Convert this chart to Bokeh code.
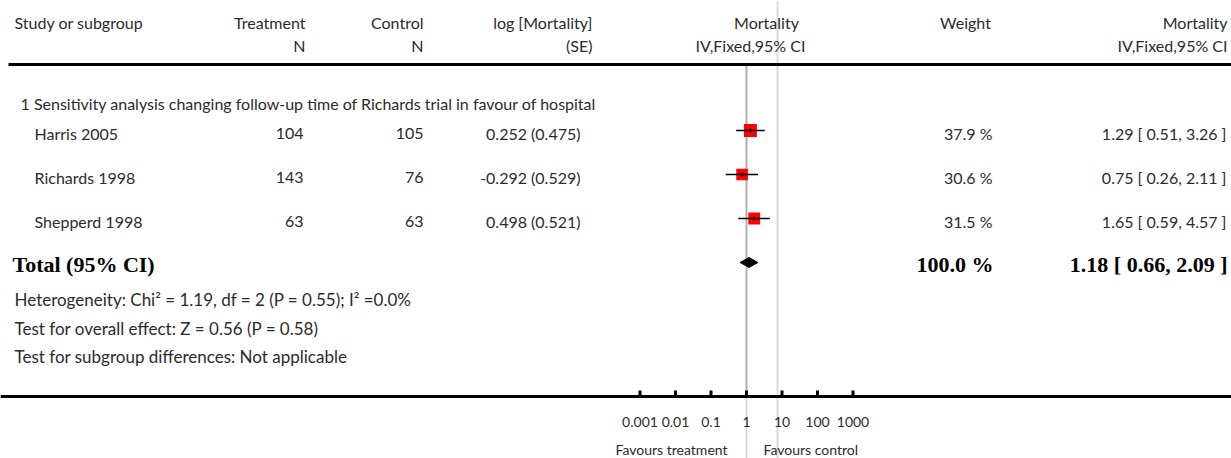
import math
from bokeh.plotting import figure
from bokeh.models import ColumnDataSource, Range1d, LogScale
from bokeh.core.properties import value
from bokeh.embed import file_html
from bokeh.resources import INLINE

# ---------------- data ----------------
studies = ["Harris 2005", "Richards 1998", "Shepperd 1998"]
treat_n = [104, 143, 63]
ctrl_n = [105, 76, 63]
log_est = [0.252, -0.292, 0.498]
log_se = [0.475, 0.529, 0.521]
weights = [37.9, 30.6, 31.5]
rr_est = [1.29, 0.75, 1.65]
rr_lo = [0.51, 0.26, 0.59]
rr_hi = [3.26, 2.11, 4.57]
total_est = 1.18
total_lo = 0.66
total_hi = 2.09
total_weight = 100.0
tick_values = [0.001, 0.01, 0.1, 1, 10, 100, 1000]
tick_labels = ["0.001", "0.01", "0.1", "1", "10", "100", "1000"]
subgroup_title = "1 Sensitivity analysis changing follow-up time of Richards trial in favour of hospital"
heterogeneity = "Heterogeneity: Chi\u00b2 = 1.19, df = 2 (P = 0.55); I\u00b2 =0.0%"
overall = "Test for overall effect: Z = 0.56 (P = 0.58)"
subgroup_diff = "Test for subgroup differences: Not applicable"

# ---------------- layout (pixel-like layout coordinates) ----------------
W, H = 1231, 458
X0, X1 = 0, 1231
Y_TOP, Y_BOT = 0, 458
ONE_X = 746.0       # where value 1 sits
DECADE = 35.5       # px per decade

FONT = value("Lato")
SERIF = value("Liberation Serif")
TXT = "#2b2b2b"
FS = "16px"
NOTE_FS = "17px"
BOLD_FS = "22px"
SMALL_FS = "14px"

p = figure(width=W, height=H, output_backend="svg", toolbar_location=None,
           x_range=Range1d(X0, X1), y_range=Range1d(Y_BOT, Y_TOP),
           min_border=0, outline_line_color=None, background_fill_color="white",
           border_fill_color="white")
p.axis.visible = False
p.grid.visible = False
p.extra_x_ranges = {"forest": Range1d(10 ** ((X0 - ONE_X) / DECADE), 10 ** ((X1 - ONE_X) / DECADE))}
p.extra_x_scales = {"forest": LogScale()}

# rows
row_text_y = [133, 177, 221]
row_mark_y = [130, 174, 218]
y_head1, y_head2, y_line = 22, 45, 64
y_title = 103
y_total, y_total_mark = 264, 262
y_het, y_over, y_sub = 299, 328, 356
y_axis, y_ticklab, y_fav = 396, 421, 449

# vertical reference lines
p.segment(x0=[777], y0=[Y_TOP], x1=[777], y1=[Y_BOT], line_color="#dcdcdc", line_width=2)
p.segment(x0=[1], y0=[y_line], x1=[1], y1=[y_axis], x_range_name="forest",
          line_color="#b0b0b0", line_width=2)
p.segment(x0=[1], y0=[y_axis], x1=[1], y1=[Y_BOT], x_range_name="forest",
          line_color="#d6d6d6", line_width=1.5)

# horizontal rules
p.segment(x0=[8], y0=[y_line], x1=[1231], y1=[y_line], line_color="black", line_width=3)
p.segment(x0=[0], y0=[y_axis], x1=[1231], y1=[y_axis], line_color="black", line_width=3)

def txt(x, y, t, align="left", size=FS, font=FONT, color=TXT, style="normal"):
    src = ColumnDataSource(dict(x=x, y=y, t=t))
    p.text(x="x", y="y", text="t", source=src, text_align=align, text_baseline="middle",
           text_font=font, text_font_size=size, text_color=color, text_font_style=style)

# header
txt([14], [y_head1], ["Study or subgroup"])
txt([305, 423, 592], [y_head1] * 3, ["Treatment", "Control", "log [Mortality]"], align="right")
txt([305, 423, 592], [y_head2] * 3, ["N", "N", "(SE)"], align="right")
txt([766, 750], [y_head1, y_head2], ["Mortality", "IV,Fixed,95% CI"], align="center")
txt([965], [y_head1], ["Weight"], align="center")
txt([1227, 1227], [y_head1, y_head2], ["Mortality", "IV,Fixed,95% CI"], align="right")

# subgroup title
txt([20], [y_title], [subgroup_title])

# study rows
txt([34] * 3, row_text_y, studies)
txt([303] * 3, row_text_y, [str(v) for v in treat_n], align="right")
txt([423] * 3, row_text_y, [str(v) for v in ctrl_n], align="right")
txt([580] * 3, row_text_y, ["%.3f (%.3f)" % (e, s) for e, s in zip(log_est, log_se)], align="right")
txt([992] * 3, row_text_y, ["%.1f %%" % w for w in weights], align="right")
txt([1226] * 3, row_text_y,
    ["%.2f [ %.2f, %.2f ]" % (e, l, h) for e, l, h in zip(rr_est, rr_lo, rr_hi)], align="right")

# forest marks
ci = ColumnDataSource(dict(est=rr_est, lo=rr_lo, hi=rr_hi, y=row_mark_y,
                           size=[2.1 * math.sqrt(w) for w in weights],
                           yt0=[y - 2.5 for y in row_mark_y], yt1=[y + 2.5 for y in row_mark_y]))
p.scatter(x="est", y="y", size="size", marker="square", source=ci, x_range_name="forest",
          fill_color="#ff0000", line_color=None)
p.segment(x0="lo", y0="y", x1="hi", y1="y", source=ci, x_range_name="forest",
          line_color="black", line_width=1.5)
p.segment(x0="est", y0="yt0", x1="est", y1="yt1", source=ci, x_range_name="forest",
          line_color="black", line_width=1)

# total
txt([12], [y_total], ["Total (95% CI)"], size=BOLD_FS, font=SERIF, color="black", style="bold")
txt([993], [y_total], ["%.1f %%" % total_weight], align="right", size=BOLD_FS, font=SERIF,
    color="black", style="bold")
txt([1227], [y_total], ["%.2f [ %.2f, %.2f ]" % (total_est, total_lo, total_hi)], align="right",
    size=BOLD_FS, font=SERIF, color="black", style="bold")
p.patch(x=[total_lo, total_est, total_hi, total_est],
        y=[y_total_mark, y_total_mark - 5, y_total_mark, y_total_mark + 5],
        x_range_name="forest", fill_color="black", line_color="black", line_width=1)

# footnotes
txt([14, 14, 14], [y_het, y_over, y_sub], [heterogeneity, overall, subgroup_diff], size=NOTE_FS)

# forest axis ticks + labels
tk = ColumnDataSource(dict(x=tick_values, lab=tick_labels,
                           y0=[y_axis - 6] * len(tick_values), y1=[y_axis] * len(tick_values),
                           ly=[y_ticklab] * len(tick_values)))
p.segment(x0="x", y0="y0", x1="x", y1="y1", source=tk, x_range_name="forest",
          line_color="black", line_width=3)
p.text(x="x", y="ly", text="lab", source=tk, x_range_name="forest", text_align="center",
       text_baseline="middle", text_font=FONT, text_font_size=SMALL_FS, text_color=TXT)
fav = ColumnDataSource(dict(x=[1, 1], y=[y_fav, y_fav], t=["Favours treatment", "Favours control"],
                            off=[-19, 17], align=["right", "left"]))
p.text(x="x", y="y", text="t", source=fav, x_range_name="forest", x_offset="off",
       text_align="align", text_baseline="middle", text_font=FONT, text_font_size=SMALL_FS,
       text_color=TXT)

open("out.html", "w").write(file_html(p, INLINE))
